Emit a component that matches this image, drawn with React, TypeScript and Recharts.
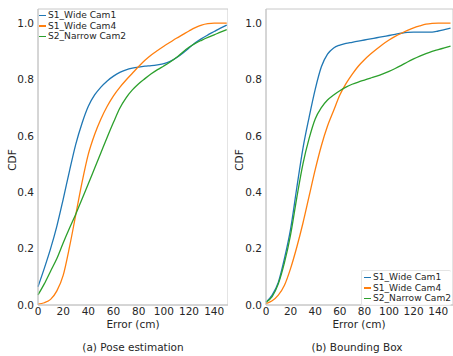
import { Line, LineChart, ReferenceArea, XAxis, YAxis } from 'recharts'

const errorCm = [0, 5, 10, 15, 20, 25, 30, 35, 40, 45, 50, 55, 60, 65, 70, 75, 80, 85, 90, 95, 100, 105, 110, 115, 120, 125, 130, 135, 140, 145, 150]

const seriesNames = ['S1_Wide Cam1', 'S1_Wide Cam4', 'S2_Narrow Cam2']
const seriesColors = ['#1f77b4', '#ff7f0e', '#2ca02c']

const xTicks = [0, 20, 40, 60, 80, 100, 120, 140]
const yTicks = [0, 0.2, 0.4, 0.6, 0.8, 1.0]

// (a) Pose estimation
const poseWideCam1 = [0.065, 0.13, 0.2, 0.28, 0.375, 0.475, 0.57, 0.645, 0.705, 0.745, 0.773, 0.795, 0.812, 0.825, 0.834, 0.84, 0.844, 0.847, 0.849, 0.852, 0.856, 0.864, 0.877, 0.893, 0.912, 0.93, 0.945, 0.958, 0.97, 0.982, 0.993]
const poseWideCam4 = [0.003, 0.008, 0.02, 0.05, 0.105, 0.205, 0.32, 0.435, 0.535, 0.605, 0.66, 0.705, 0.742, 0.772, 0.798, 0.822, 0.846, 0.868, 0.887, 0.903, 0.918, 0.932, 0.946, 0.959, 0.972, 0.984, 0.993, 0.998, 1.0, 1.0, 1.0]
const poseNarrowCam2 = [0.036, 0.075, 0.12, 0.165, 0.22, 0.272, 0.322, 0.376, 0.43, 0.485, 0.54, 0.595, 0.648, 0.698, 0.735, 0.763, 0.785, 0.803, 0.82, 0.835, 0.848, 0.862, 0.878, 0.897, 0.914, 0.928, 0.939, 0.949, 0.958, 0.968, 0.977]

// (b) Bounding Box
const boxWideCam1 = [0.01, 0.035, 0.08, 0.165, 0.27, 0.415, 0.555, 0.665, 0.765, 0.845, 0.89, 0.912, 0.922, 0.928, 0.932, 0.936, 0.94, 0.944, 0.948, 0.952, 0.956, 0.96, 0.964, 0.967, 0.968, 0.968, 0.968, 0.968, 0.972, 0.977, 0.982]
const boxWideCam4 = [0.005, 0.015, 0.035, 0.07, 0.13, 0.205, 0.29, 0.385, 0.48, 0.565, 0.635, 0.69, 0.745, 0.785, 0.818, 0.847, 0.87, 0.89, 0.908, 0.925, 0.94, 0.953, 0.964, 0.974, 0.983, 0.99, 0.996, 0.999, 1.0, 1.0, 1.0]
const boxNarrowCam2 = [0.01, 0.03, 0.075, 0.15, 0.25, 0.38, 0.5, 0.59, 0.66, 0.7, 0.727, 0.745, 0.76, 0.773, 0.783, 0.791, 0.798, 0.805, 0.812, 0.82, 0.829, 0.839, 0.85, 0.862, 0.873, 0.883, 0.892, 0.9, 0.906, 0.912, 0.918]

const font = '"DejaVu Sans", sans-serif'
const textColor = '#262626'
const spine = '#c8c8c8'

function toRows(a: number[], b: number[], c: number[]) {
  return errorCm.map((x, i) => ({ x, s0: a[i], s1: b[i], s2: c[i] }))
}

const poseData = toRows(poseWideCam1, poseWideCam4, poseNarrowCam2)
const boxData = toRows(boxWideCam1, boxWideCam4, boxNarrowCam2)

function LegendBox({ left, top, boxed }: { left: number; top: number; boxed?: boolean }) {
  return (
    <div
      style={{
        position: 'absolute',
        left,
        top,
        fontFamily: font,
        fontSize: 9.1,
        color: textColor,
        lineHeight: '10.6px',
        background: boxed ? 'rgba(255,255,255,0.85)' : 'transparent',
        border: boxed ? '1px solid #e4e4e4' : 'none',
        borderRight: 'none',
        borderRadius: 2,
        padding: '1px 0 1px 2px',
      }}
    >
      {seriesNames.map((n, i) => (
        <div key={n} style={{ display: 'flex', alignItems: 'center', whiteSpace: 'nowrap' }}>
          <span style={{ display: 'inline-block', width: 7, height: 1.5, background: seriesColors[i], marginRight: 2 }} />
          {n}
        </div>
      ))}
    </div>
  )
}

function Panel({ data, left, width, xMax }: { data: any[]; left: number; width: number; xMax: number }) {
  return (
    <div style={{ position: 'absolute', left, top: 0 }}>
      <LineChart width={width} height={330} data={data} margin={{ top: 9, right: 0, left: 0, bottom: 0 }}>
        <XAxis
          dataKey="x"
          type="number"
          domain={[0, xMax]}
          ticks={xTicks}
          interval={0}
          height={25}
          tickLine={false}
          tickSize={0}
          tickMargin={3}
          stroke={spine}
          tick={{ fill: textColor, fontSize: 10.5, fontFamily: font }}
        />
        <YAxis
          type="number"
          domain={[0, 1.05]}
          ticks={yTicks}
          interval={0}
          width={38}
          tickLine={false}
          tickSize={0}
          tickMargin={4}
          stroke={spine}
          tickFormatter={(v: number) => v.toFixed(1)}
          tick={{ fill: textColor, fontSize: 10.5, fontFamily: font }}
        />
        <ReferenceArea x1={0} x2={xMax} y1={0} y2={1.05} fill="none" stroke={spine} strokeWidth={1} />
        {seriesNames.map((n, i) => (
          <Line
            key={n}
            dataKey={`s${i}`}
            name={n}
            type="monotone"
            stroke={seriesColors[i]}
            strokeWidth={1.3}
            dot={false}
            isAnimationActive={false}
          />
        ))}
      </LineChart>
    </div>
  )
}

const labelStyle: React.CSSProperties = {
  position: 'absolute',
  fontFamily: font,
  fontSize: 10.5,
  color: textColor,
  whiteSpace: 'nowrap',
  transform: 'translate(-50%, -50%)',
}

export default function App() {
  return (
    <div style={{ position: 'absolute', left: 0, top: 0, width: 453, height: 356, background: '#fff', overflow: 'hidden' }}>
      <Panel data={poseData} left={0} width={228} xMax={151} />
      <Panel data={boxData} left={228} width={225} xMax={152} />
      <LegendBox left={37} top={9} />
      <LegendBox left={361} top={270} boxed />
      <div style={{ ...labelStyle, left: 12, top: 160, transform: 'translate(-50%, -50%) rotate(-90deg)' }}>CDF</div>
      <div style={{ ...labelStyle, left: 239, top: 160, transform: 'translate(-50%, -50%) rotate(-90deg)' }}>CDF</div>
      <div style={{ ...labelStyle, left: 133, top: 324 }}>Error (cm)</div>
      <div style={{ ...labelStyle, left: 359, top: 324 }}>Error (cm)</div>
      <div style={{ ...labelStyle, left: 133, top: 347 }}>(a) Pose estimation</div>
      <div style={{ ...labelStyle, left: 357, top: 347 }}>(b) Bounding Box</div>
    </div>
  )
}
